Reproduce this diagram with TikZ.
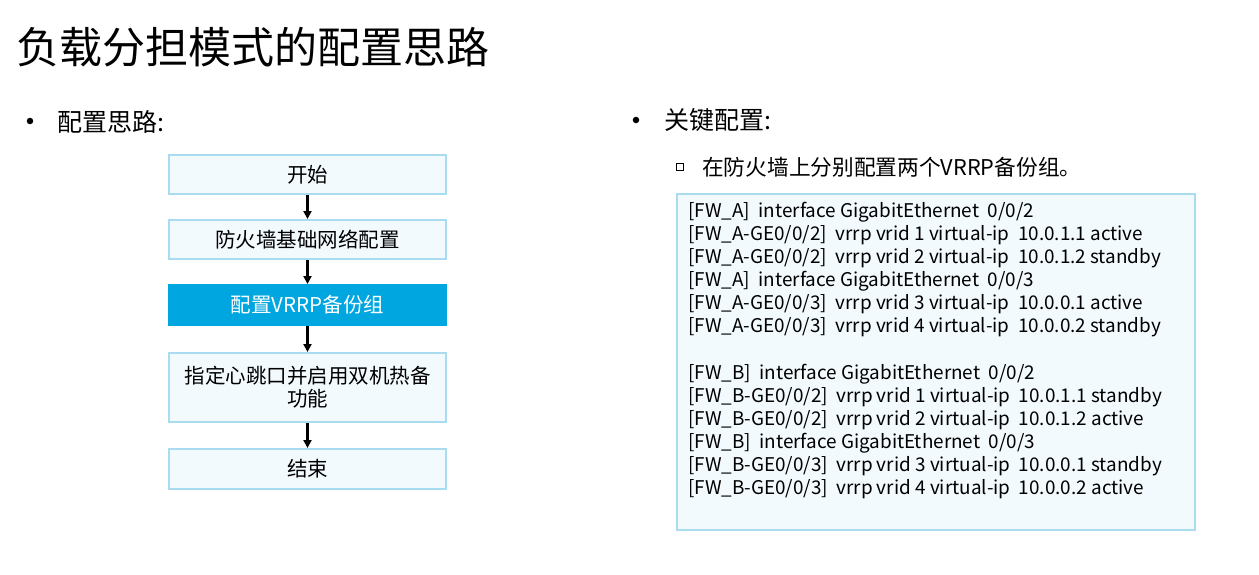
\documentclass[tikz,border=0pt]{standalone}
\usepackage{fontspec}
\setmainfont{Noto Sans CJK SC}
\usetikzlibrary{arrows.meta}
\definecolor{hwblue}{HTML}{00A6E0}
\definecolor{lightborder}{HTML}{A9DCEF}
\definecolor{lightfill}{HTML}{F3FAFD}
\begin{document}
\begin{tikzpicture}[x=1pt,y=-1pt,
  flowbox/.style={draw=lightborder, line width=2pt, fill=lightfill, minimum width=277pt, inner sep=0pt, font=\fontsize{20.5}{23}\selectfont, align=center},
  activebox/.style={flowbox, draw=hwblue, fill=hwblue, text=white},
  flowarrow/.style={-{Triangle[length=8pt,width=8pt]}, line width=2.2pt, draw=black},
  bulletdot/.style={circle, fill=black, minimum size=6.5pt, inner sep=0pt},
  headfont/.style={font=\fontsize{25}{28}\selectfont},
  codefont/.style={font=\fontsize{18.9}{23.1}\selectfont}]
\useasboundingbox (0,0) rectangle (1259,574);
\fill[white] (0,0) rectangle (1259,574);
% title
\node[anchor=west, inner sep=0pt, font=\fontsize{43}{48}\selectfont] (title) at (16,47) {负载分担模式的配置思路};
% left bullet
\node[bulletdot] (bl) at (30,121) {};
\node[anchor=west, inner sep=0pt, headfont] (lhead) at (57,122) {配置思路:};
% flowchart
\node[flowbox, minimum height=39pt] (b1) at (307.5,174.5) {开始};
\node[flowbox, minimum height=39pt] (b2) at (307.5,239.5) {防火墙基础网络配置};
\node[activebox, minimum height=40pt] (b3) at (307.5,305) {配置VRRP备份组};
\node[flowbox, minimum height=69pt] (b4) at (307.5,387.5) {指定心跳口并启用双机热备\\功能};
\node[flowbox, minimum height=40pt] (b5) at (307.5,469) {结束};
\draw[flowarrow] (b1) -- (b2);
\draw[flowarrow] (b2) -- (b3);
\draw[flowarrow] (b3) -- (b4);
\draw[flowarrow] (b4) -- (b5);
% right bullet
\node[bulletdot] (br) at (636,120) {};
\node[anchor=west, inner sep=0pt, headfont] (rhead) at (664,120) {关键配置:};
\node[draw=black, line width=1.2pt, minimum size=7pt, inner sep=0pt] (sq) at (680,167) {};
\node[anchor=west, inner sep=0pt, font=\fontsize{21.7}{25}\selectfont] (sub) at (702,167) {在防火墙上分别配置两个VRRP备份组。};
% code box
\node[draw=lightborder, line width=2pt, fill=lightfill, anchor=north west, minimum width=518pt, minimum height=336pt, inner sep=0pt] (code) at (676,193) {};
\node[anchor=north west, inner sep=0pt, align=left, codefont] (codetext) at (688,202) {%
{[}FW\_A]\ \ interface GigabitEthernet\ \ 0/0/2\\
{[}FW\_A-GE0/0/2]\ \ vrrp vrid 1 virtual-ip\ \ 10.0.1.1 active\\
{[}FW\_A-GE0/0/2]\ \ vrrp vrid 2 virtual-ip\ \ 10.0.1.2 standby\\
{[}FW\_A]\ \ interface GigabitEthernet\ \ 0/0/3\\
{[}FW\_A-GE0/0/3]\ \ vrrp vrid 3 virtual-ip\ \ 10.0.0.1 active\\
{[}FW\_A-GE0/0/3]\ \ vrrp vrid 4 virtual-ip\ \ 10.0.0.2 standby\\
\strut\\
{[}FW\_B]\ \ interface GigabitEthernet\ \ 0/0/2\\
{[}FW\_B-GE0/0/2]\ \ vrrp vrid 1 virtual-ip\ \ 10.0.1.1 standby\\
{[}FW\_B-GE0/0/2]\ \ vrrp vrid 2 virtual-ip\ \ 10.0.1.2 active\\
{[}FW\_B]\ \ interface GigabitEthernet\ \ 0/0/3\\
{[}FW\_B-GE0/0/3]\ \ vrrp vrid 3 virtual-ip\ \ 10.0.0.1 standby\\
{[}FW\_B-GE0/0/3]\ \ vrrp vrid 4 virtual-ip\ \ 10.0.0.2 active};
\end{tikzpicture}
\end{document}
